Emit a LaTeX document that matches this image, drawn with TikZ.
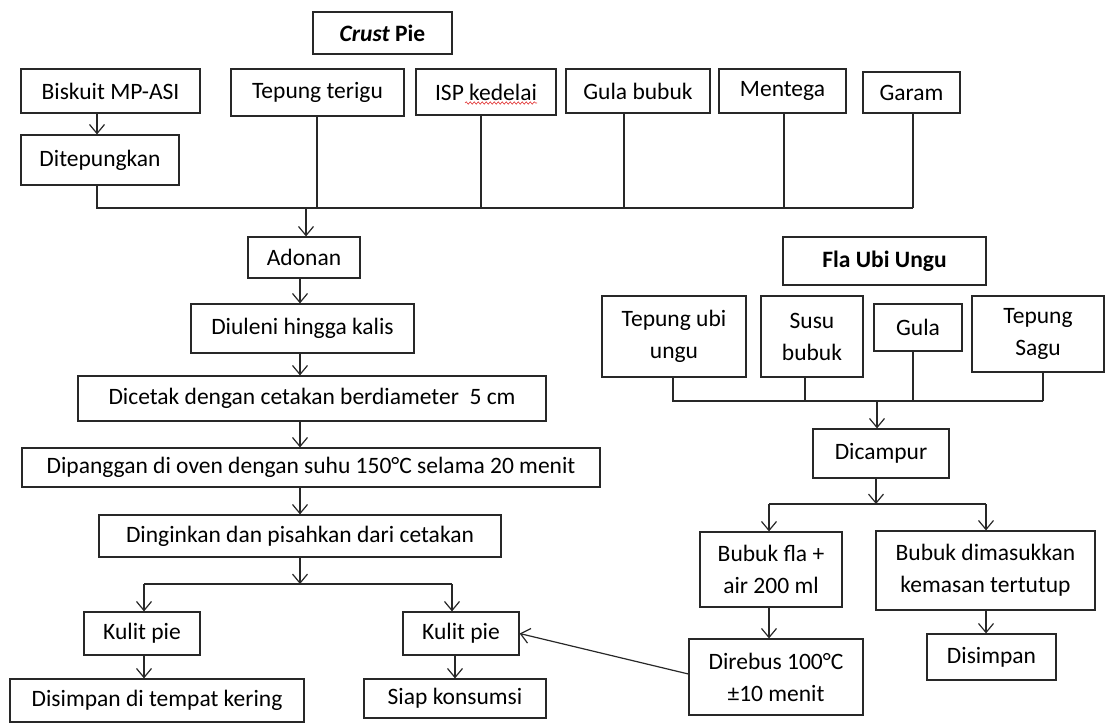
\documentclass[tikz,border=0pt]{standalone}
\usepackage{fontspec}
\setmainfont{Carlito}
\usepackage{tikz}
\usetikzlibrary{arrows.meta,positioning,decorations.pathmorphing}
\definecolor{lineblack}{RGB}{40,40,40}
\definecolor{spellred}{RGB}{225,50,50}
\tikzstyle{box} = [draw=lineblack, line width=1.2pt, inner sep=0pt, align=center, font=\fontsize{23.5}{32}\selectfont]
\tikzstyle{link} = [line width=1.2pt, color=lineblack]
\tikzstyle{flow} = [link, -{Straight Barb[length=9pt,width=15pt]}]

\begin{document}
\begin{tikzpicture}[x=1pt, y=-1pt]
\useasboundingbox (0,0) rectangle (1105,723);

% Crust pie: ingredients
\node[box, minimum width=139, minimum height=42] (crust) at (382.5,33) {\textbf{\textit{Crust} Pie}};
\node[box, minimum width=179, minimum height=44] (biskuit) at (110.5,91) {Biskuit MP-ASI};
\node[box, minimum width=158, minimum height=50] (ditepung) at (100,160) {Ditepungkan};
\node[box, minimum width=173, minimum height=47] (terigu) at (317.5,92.5) {Tepung terigu};
\node[box, minimum width=140, minimum height=46] (isp) at (486,92) {ISP kedelai};
\node[box, minimum width=144, minimum height=44] (gulabubuk) at (638,91) {Gula bubuk};
\node[box, minimum width=127, minimum height=44] (mentega) at (782.5,91) {Mentega};
\node[box, minimum width=97, minimum height=41] (garam) at (911.5,92.5) {Garam};
\draw[spellred, line width=0.6pt, decorate, decoration={snake, amplitude=1.2pt, segment length=4pt}] (465,103) -- (537,103);

% Crust pie: process
\node[box, minimum width=112, minimum height=41] (adonan) at (304,257.5) {Adonan};
\node[box, minimum width=223, minimum height=49] (diuleni) at (302.5,328.5) {Diuleni hingga kalis};
\node[box, minimum width=468, minimum height=45] (dicetak) at (312,398.5) {Dicetak dengan cetakan berdiameter\ \ 5 cm};
\node[box, minimum width=578, minimum height=39] (dipanggang) at (311,467.5) {Dipanggan di oven dengan suhu 150°C selama 20 menit};
\node[box, minimum width=402, minimum height=42] (dinginkan) at (300,536) {Dinginkan dan pisahkan dari cetakan};
\node[box, minimum width=116, minimum height=43] (kulitL) at (142,633.5) {Kulit pie};
\node[box, minimum width=116, minimum height=43] (kulitR) at (461,633.5) {Kulit pie};
\node[box, minimum width=294, minimum height=43] (simpanL) at (157,700.5) {Disimpan di tempat kering};
\node[box, minimum width=182, minimum height=39] (siap) at (455,698.5) {Siap konsumsi};

% Fla ubi ungu
\node[box, minimum width=203, minimum height=48] (fla) at (884.5,261) {\textbf{Fla Ubi Ungu}};
\node[box, minimum width=144, minimum height=81] (ubi) at (674,336.5) {Tepung ubi\\ungu};
\node[box, minimum width=102, minimum height=81] (susu) at (812,336.5) {Susu\\bubuk};
\node[box, minimum width=88, minimum height=47] (gula) at (918,327.5) {Gula};
\node[box, minimum width=132, minimum height=76] (sagu) at (1038,334) {Tepung\\Sagu};
\node[box, minimum width=136, minimum height=49] (dicampur) at (881,453.5) {Dicampur};
\node[box, minimum width=142, minimum height=75] (bubukfla) at (771,569.5) {Bubuk fla +\\air 200 ml};
\node[box, minimum width=219, minimum height=79] (kemasan) at (985.5,570.5) {Bubuk dimasukkan\\kemasan tertutup};
\node[box, minimum width=174, minimum height=76] (direbus) at (776,677) {Direbus 100°C\\±10 menit};
\node[box, minimum width=129, minimum height=46] (disimpan) at (991.5,657) {Disimpan};

% joints
\coordinate (busL) at (97,208);
\coordinate (busR) at (913,208);
\coordinate (busMid) at (306,208);
\coordinate (bTerigu) at (317,208);
\coordinate (bIsp) at (481,208);
\coordinate (bGula) at (624,208);
\coordinate (bMentega) at (784,208);
\coordinate (splitMid) at (300,584);
\coordinate (splitL) at (144,584);
\coordinate (splitR) at (452,584);
\coordinate (ubiL) at (673,401);
\coordinate (ubiR) at (1043,401);
\coordinate (bSusu) at (805,401);
\coordinate (bGulaFla) at (913,401);
\coordinate (ubiMid) at (877,401);
\coordinate (campMid) at (876,504);
\coordinate (campL) at (769,504);
\coordinate (campR) at (986,504);

% crust connectors
\draw[flow] (biskuit.south -| busL) -- (ditepung.north -| busL);
\draw[link] (ditepung.south -| busL) -- (busL) -- (busR);
\draw[link] (bTerigu |- terigu.south) -- (bTerigu);
\draw[link] (bIsp |- isp.south) -- (bIsp);
\draw[link] (bGula |- gulabubuk.south) -- (bGula);
\draw[link] (bMentega |- mentega.south) -- (bMentega);
\draw[link] (busR |- garam.south) -- (busR);
\draw[flow] (busMid) -- (busMid |- adonan.north);
\draw[flow] (adonan.south -| splitMid) -- (diuleni.north -| splitMid);
\draw[flow] (diuleni.south -| splitMid) -- (dicetak.north -| splitMid);
\draw[flow] (dicetak.south -| splitMid) -- (dipanggang.north -| splitMid);
\draw[flow] (dipanggang.south -| splitMid) -- (dinginkan.north -| splitMid);
\draw[flow] (dinginkan.south -| splitMid) -- (splitMid);
\draw[link] (splitL) -- (splitR);
\draw[flow] (splitL) -- (splitL |- kulitL.north);
\draw[flow] (splitR) -- (splitR |- kulitR.north);
\draw[flow] (kulitL.south -| splitL) -- (simpanL.north -| splitL);
\draw[flow] (kulitR.south -| siap.north) -- (siap.north);

% fla connectors
\draw[link] (ubi.south -| ubiL) -- (ubiL) -- (ubiR);
\draw[link] (bSusu |- susu.south) -- (bSusu);
\draw[link] (bGulaFla |- gula.south) -- (bGulaFla);
\draw[link] (ubiR |- sagu.south) -- (ubiR);
\draw[flow] (ubiMid) -- (ubiMid |- dicampur.north);
\draw[flow] (dicampur.south -| campMid) -- (campMid);
\draw[link] (campL) -- (campR);
\draw[flow] (campL) -- (campL |- bubukfla.north);
\draw[flow] (campR) -- (campR |- kemasan.north);
\draw[flow] (bubukfla.south -| campL) -- (direbus.north -| campL);
\draw[flow] (kemasan.south -| campR) -- (disimpan.north -| campR);
\draw[flow] ([yshift=3pt]direbus.west) -- (kulitR.east);
\end{tikzpicture}
\end{document}
